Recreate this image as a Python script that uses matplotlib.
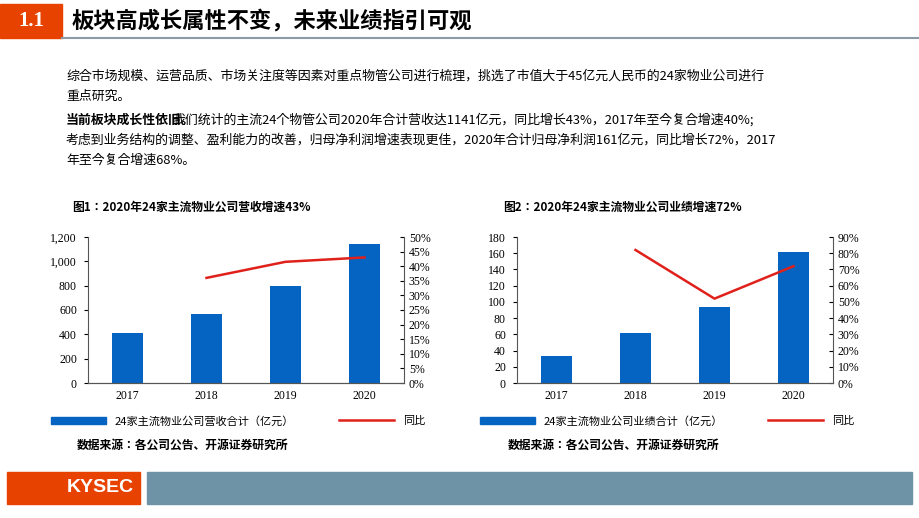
import matplotlib.pyplot as plt
from matplotlib.patches import Rectangle
from matplotlib.lines import Line2D
import matplotlib.ticker as mticker

plt.rcParams['font.family'] = ['Noto Sans CJK JP', 'Noto Sans CJK SC', 'DejaVu Sans']

years = ['2017', '2018', '2019', '2020']
revenue = [410, 565, 795, 1141]
revenue_yoy = [None, 0.36, 0.415, 0.43]
profit = [33, 62, 94, 161]
profit_yoy = [None, 0.82, 0.52, 0.72]

BLUE = '#0563c1'
RED = '#e0201b'
ORANGE = '#e84200'
W, H = 920, 518

fig = plt.figure(figsize=(W / 100, H / 100), dpi=100, facecolor='white')


def fx(px):
    return px / W


def fy(py):
    return 1 - py / H


# header
fig.patches.append(Rectangle((0, fy(38)), fx(62), fy(4) - fy(38), transform=fig.transFigure,
                             color=ORANGE))
fig.text(fx(31), fy(21), '1.1', color='white', fontsize=15, fontweight='bold',
         ha='center', va='center', family='Liberation Serif')
fig.text(fx(72), fy(21), '板块高成长属性不变，未来业绩指引可观', fontsize=16, fontweight='bold',
         va='center')
fig.add_artist(Line2D([fx(62), fx(918)], [fy(38), fy(38)], color='#8a9aa6', lw=1.5,
                      transform=fig.transFigure))

# body text
fig.text(fx(66), fy(76), '综合市场规模、运营品质、市场关注度等因素对重点物管公司进行梳理，挑选了市值大于45亿元人民币的24家物业公司进行',
         fontsize=9.3, va='center')
fig.text(fx(66), fy(96), '重点研究。', fontsize=9.3, va='center')
fig.text(fx(66), fy(120), '当前板块成长性依旧。', fontsize=9.3, va='center', fontweight='bold')
fig.text(fx(172), fy(120), '我们统计的主流24个物管公司2020年合计营收达1141亿元，同比增长43%，2017年至今复合增速40%;',
         fontsize=9.3, va='center')
fig.text(fx(66), fy(140), '考虑到业务结构的调整、盈利能力的改善，归母净利润增速表现更佳，2020年合计归母净利润161亿元，同比增长72%，2017',
         fontsize=9.3, va='center')
fig.text(fx(66), fy(160), '年至今复合增速68%。', fontsize=9.3, va='center')


def draw_chart(left, title, bars, yoy, ymax, ystep, pmax, bar_label, title_x):
    fig.text(fx(title_x), fy(207), title, fontsize=8.5, fontweight='bold', va='center')
    ax = fig.add_axes([fx(left), fy(383), fx(316), fy(237) - fy(383)])
    x = range(len(years))
    ax.bar(x, bars, width=0.4, color=BLUE)
    ax.set_ylim(0, ymax)
    ax.set_xlim(-0.5, len(years) - 0.5)
    ax.yaxis.set_major_locator(mticker.MultipleLocator(ystep))
    ax.yaxis.set_major_formatter(mticker.FuncFormatter(lambda v, p: f'{int(v):,}'))
    ax.set_xticks(list(x))
    ax.set_xticklabels(years)
    for s in ['top', 'right']:
        ax.spines[s].set_visible(False)
    ax.tick_params(labelsize=8.5, length=0, pad=5)
    ax.tick_params(axis='y', length=3, direction='out')
    ax2 = ax.twinx()
    ax2.plot(x[1:], yoy[1:], color=RED, lw=1.8)
    ax2.set_ylim(0, pmax)
    ax2.yaxis.set_major_locator(mticker.MultipleLocator(0.05 if pmax < 0.6 else 0.1))
    ax2.yaxis.set_major_formatter(mticker.PercentFormatter(1, decimals=0))
    ax2.tick_params(labelsize=8.5, length=3, direction='in')
    for s in ['top', 'left']:
        ax2.spines[s].set_visible(False)
    for a in (ax, ax2):
        for s in a.spines.values():
            s.set_color('#555555')
    for lab in ax.get_xticklabels() + ax.get_yticklabels() + ax2.get_yticklabels():
        lab.set_family('Liberation Serif')
    handles = [Rectangle((0, 0), 1, 1, color=BLUE), Line2D([], [], color=RED, lw=1.8)]
    fig.legend(handles, [bar_label, '同比'], loc='center', ncol=2, frameon=False,
               fontsize=8, bbox_to_anchor=(fx(left + 150), fy(421)), columnspacing=4,
               handlelength=5)
    fig.text(fx(title_x + 5), fy(445), '数据来源：各公司公告、开源证券研究所', fontsize=8.5,
             fontweight='bold', va='center')


draw_chart(88, '图1：2020年24家主流物业公司营收增速43%', revenue, revenue_yoy, 1200, 200, 0.5,
           '24家主流物业公司营收合计（亿元）', 72)
draw_chart(517, '图2：2020年24家主流物业公司业绩增速72%', profit, profit_yoy, 180, 20, 0.9,
           '24家主流物业公司业绩合计（亿元）', 503)

# footer
fig.patches.append(Rectangle((fx(7), fy(504)), fx(133), fy(472) - fy(504), transform=fig.transFigure,
                             color=ORANGE))
fig.text(fx(100), fy(488), 'KYSEC', color='white', fontsize=14, fontweight='bold',
         ha='center', va='center', family='Liberation Sans')
fig.patches.append(Rectangle((fx(147), fy(504)), fx(765), fy(472) - fy(504), transform=fig.transFigure,
                             color='#6e92a6'))

fig.savefig('out.png', dpi=100)
